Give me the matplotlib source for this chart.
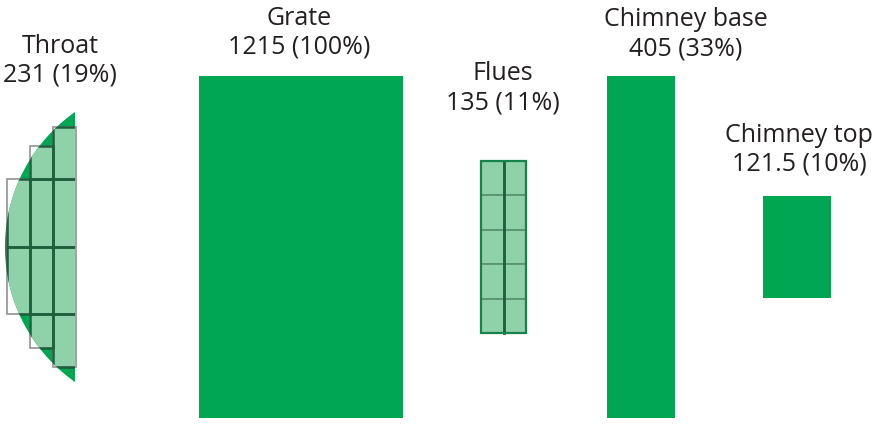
import numpy as np
import matplotlib
matplotlib.use("Agg")
import matplotlib.pyplot as plt
from matplotlib.patches import Rectangle, Polygon

# areas (relative units)
names = ["Throat", "Grate", "Flues", "Chimney base", "Chimney top"]
areas = [231, 1215, 135, 405, 121.5]
labels = ["231 (19%)", "1215 (100%)", "135 (11%)", "405 (33%)", "121.5 (10%)"]

# layout, in pixels of the 882x427 canvas
mid_y = 248
scale = 204 * 342 / 1215      # px^2 per unit of area (grate box)
rect_left = {"Grate": 199, "Flues": 481, "Chimney base": 607, "Chimney top": 763}
rect_width = {"Grate": 204, "Flues": 45, "Chimney base": 68, "Chimney top": 68}
label_x = [60, 299, 503, 686, 799]
label_y = [53, 25, 80, 26, 142]
line_gap = 29

throat_right = 75
throat_half_chord = 135
throat_cols = [7, 30, 53]
throat_col_w = 22.5
throat_rows = [[180, 248, 315],
               [147, 180, 248, 315, 349],
               [128, 180, 248, 315, 368]]
flue_cols, flue_rows = 2, 5

GREEN = "#00a651"
LIGHT = "#8fd1a9"
DARK = "#1d5f3b"
TEXT = "#231f20"

plt.rcParams["font.family"] = ["Open Sans", "DejaVu Sans"]

fig = plt.figure(figsize=(8.82, 4.27), dpi=100)
ax = fig.add_axes([0, 0, 1, 1])
ax.set_xlim(0, 882)
ax.set_ylim(427, 0)
ax.axis("off")


def segment_area(s, h):
    r = (h * h + s * s) / (2 * s)
    return r * r * np.arccos((r - s) / r) - (r - s) * np.sqrt(2 * r * s - s * s)


# throat: circular segment whose area matches the value
target = areas[0] * scale
lo, hi = 1.0, throat_half_chord
for _ in range(60):
    s = (lo + hi) / 2
    if segment_area(s, throat_half_chord) < target:
        lo = s
    else:
        hi = s
sag = (lo + hi) / 2
R = (throat_half_chord ** 2 + sag ** 2) / (2 * sag)
cx = throat_right - sag + R
theta = np.arcsin(throat_half_chord / R)
ang = np.linspace(np.pi - theta, np.pi + theta, 200)
pts = np.column_stack([cx + R * np.cos(ang), mid_y + R * np.sin(ang)])
seg = Polygon(pts, closed=True, facecolor=GREEN, edgecolor="none", zorder=1)
ax.add_patch(seg)

for x0, rows in zip(throat_cols, throat_rows):
    for y0, y1 in zip(rows[:-1], rows[1:]):
        fill = Rectangle((x0, y0), throat_col_w, y1 - y0, facecolor=LIGHT,
                         edgecolor="none", zorder=2)
        ax.add_patch(fill)
        fill.set_clip_path(seg)
        grey = Rectangle((x0, y0), throat_col_w, y1 - y0, facecolor="none",
                         edgecolor="#9a9a9a", lw=1.3, zorder=3)
        ax.add_patch(grey)
        dark = Rectangle((x0, y0), throat_col_w, y1 - y0, facecolor="none",
                         edgecolor=DARK, lw=1.8, zorder=4)
        ax.add_patch(dark)
        dark.set_clip_path(seg)

# plain boxes
for name, area in zip(names[1:], areas[1:]):
    w = rect_width[name]
    h = area * scale / w
    x0 = rect_left[name]
    y0 = mid_y - h / 2
    if name == "Flues":
        cw, ch = w / flue_cols, h / flue_rows
        for i in range(flue_cols):
            for j in range(flue_rows):
                ax.add_patch(Rectangle((x0 + i * cw, y0 + j * ch), cw, ch,
                                       facecolor=LIGHT, edgecolor="#5a9473",
                                       lw=1.3, zorder=2))
        ax.plot([x0 + cw, x0 + cw], [y0, y0 + h], color=DARK, lw=2, zorder=3)
        ax.add_patch(Rectangle((x0, y0), w, h, facecolor="none",
                               edgecolor="#17824a", lw=1.6, zorder=4))
    else:
        ax.add_patch(Rectangle((x0, y0), w, h, facecolor=GREEN,
                               edgecolor="none", zorder=2))

for name, lab, x, y in zip(names, labels, label_x, label_y):
    ax.text(x, y, name, ha="center", va="baseline", fontsize=18, color=TEXT)
    ax.text(x, y + line_gap, lab, ha="center", va="baseline", fontsize=18,
            color=TEXT)

fig.savefig("out.png", dpi=100)
